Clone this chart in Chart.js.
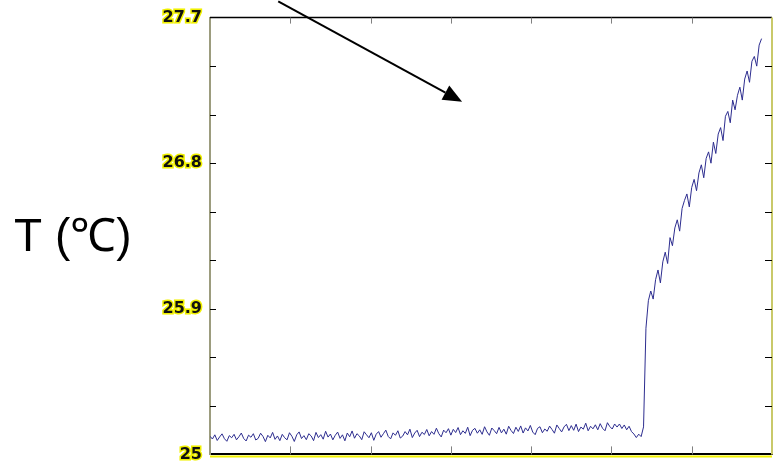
<!DOCTYPE html>
<html>
<head>
<meta charset="utf-8">
<script src="https://cdn.jsdelivr.net/npm/chart.js@4.4.0/dist/chart.umd.min.js"></script>
<style>
  html, body { margin: 0; padding: 0; background: #fff; }
</style>
</head>
<body>
<canvas id="temp-chart" width="775" height="472"></canvas>
<script>
// sample spacing along the (unlabelled) x axis
const sampleStep = 3;

// temperature readings (deg C), one every sampleStep: flat phase, then heating
const tempFlat = [
  25.112, 25.095, 25.121, 25.086, 25.108, 25.127, 25.097, 25.081, 25.116, 25.103,
  25.124, 25.090, 25.109, 25.132, 25.098, 25.083, 25.119, 25.106, 25.128, 25.089,
  25.099, 25.131, 25.111, 25.079, 25.118, 25.102, 25.136, 25.093, 25.114, 25.085,
  25.124, 25.103, 25.090, 25.134, 25.112, 25.080, 25.121, 25.139, 25.098, 25.116,
  25.091, 25.128, 25.114, 25.085, 25.136, 25.104, 25.122, 25.094, 25.143, 25.107,
  25.126, 25.090, 25.118, 25.138, 25.099, 25.121, 25.084, 25.132, 25.109, 25.145,
  25.100, 25.128, 25.114, 25.091, 25.140, 25.121, 25.103, 25.134, 25.087, 25.125,
  25.141, 25.106, 25.128, 25.150, 25.111, 25.096, 25.133, 25.118, 25.146, 25.101,
  25.113, 25.141, 25.121, 25.156, 25.104, 25.132, 25.149, 25.110, 25.137, 25.123,
  25.154, 25.115, 25.141, 25.124, 25.162, 25.128, 25.108, 25.150, 25.134, 25.159,
  25.119, 25.155, 25.135, 25.166, 25.122, 25.146, 25.130, 25.168, 25.116, 25.149,
  25.161, 25.131, 25.152, 25.124, 25.171, 25.139, 25.118, 25.163, 25.147, 25.128,
  25.167, 25.133, 25.156, 25.125, 25.174, 25.148, 25.129, 25.168, 25.142, 25.176,
  25.132, 25.164, 25.145, 25.179, 25.138, 25.122, 25.161, 25.171, 25.134, 25.157,
  25.143, 25.175, 25.154, 25.131, 25.182, 25.160, 25.139, 25.170, 25.186, 25.147,
  25.178, 25.149, 25.187, 25.141, 25.169, 25.156, 25.193, 25.146, 25.174, 25.158,
  25.183, 25.152, 25.190, 25.161, 25.146, 25.196, 25.172, 25.157, 25.188, 25.169,
  25.188, 25.160, 25.182, 25.152, 25.174, 25.141, 25.126, 25.104, 25.125, 25.110,
  25.170
];
const tempRise = [
  25.78, 25.95, 26.01, 25.96, 26.08, 26.14, 26.06, 26.19, 26.25, 26.18,
  26.34, 26.29, 26.40, 26.45, 26.38, 26.52, 26.57, 26.61, 26.53, 26.65,
  26.70, 26.63, 26.74, 26.79, 26.71, 26.83, 26.87, 26.80, 26.93, 26.86,
  26.98, 27.02, 26.94, 27.09, 27.12, 27.05, 27.19, 27.13, 27.22, 27.27,
  27.19, 27.32, 27.37, 27.30, 27.43, 27.46, 27.40, 27.53, 27.57
];

// axis ticks
const xMin = 0, xMax = 700, xStep = 100;
const yTickValues = [25, 25.3, 25.6, 25.9, 26.2, 26.5, 26.8, 27.1, 27.4, 27.7];
const yTickLabels = ['25', '25.9', '26.8', '27.7'];
const yAxisLabel = 'T (\u2103)';

// arrow annotation, in data coordinates
const arrowFrom = { x: 85, y: 27.80 };
const arrowTo = { x: 314, y: 27.18 };

var temps = tempFlat.concat(tempRise);
var points = temps.map((t, i) => ({ x: i * sampleStep, y: t }));

const framePlugin = {
  id: 'framePlugin',
  afterDraw(chart) {
    var ctx = chart.ctx;
    var area = chart.chartArea;
    var xs = chart.scales.x;
    var ys = chart.scales.y;
    ctx.save();

    // yellow glow under bottom axis
    ctx.strokeStyle = '#f2f200';
    ctx.lineWidth = 2;
    ctx.beginPath();
    ctx.moveTo(area.left, area.bottom + 2);
    ctx.lineTo(area.right, area.bottom + 2);
    ctx.stroke();

    // top and right edges
    ctx.strokeStyle = '#000';
    ctx.lineWidth = 1.5;
    ctx.beginPath();
    ctx.moveTo(area.left, area.top);
    ctx.lineTo(area.right, area.top);
    ctx.stroke();
    ctx.strokeStyle = '#c9c96a';
    ctx.lineWidth = 2;
    ctx.beginPath();
    ctx.moveTo(area.right, area.top);
    ctx.lineTo(area.right, area.bottom);
    ctx.stroke();

    // inside ticks
    ctx.lineWidth = 1;
    ctx.strokeStyle = '#808080';
    xs.ticks.forEach(t => {
      if (t.value <= xMin || t.value >= xMax) return;
      var px = Math.round(xs.getPixelForValue(t.value)) + 0.5;
      ctx.beginPath();
      ctx.moveTo(px, area.top);
      ctx.lineTo(px, area.top + 6);
      ctx.moveTo(px, area.bottom - 8);
      ctx.lineTo(px, area.bottom);
      ctx.stroke();
    });
    ctx.strokeStyle = '#000';
    ys.ticks.forEach(t => {
      if (t.value <= yTickValues[0] || t.value >= yTickValues[yTickValues.length - 1]) return;
      var py = Math.round(ys.getPixelForValue(t.value)) + 0.5;
      ctx.beginPath();
      ctx.moveTo(area.left, py);
      ctx.lineTo(area.left + 6, py);
      ctx.moveTo(area.right - 7, py);
      ctx.lineTo(area.right, py);
      ctx.stroke();
    });

    // axis title, kept horizontal
    ctx.fillStyle = '#000';
    ctx.font = '46px "Liberation Sans", Arial, sans-serif';
    ctx.textAlign = 'left';
    ctx.textBaseline = 'alphabetic';
    ctx.fillText(yAxisLabel, 14, 251);

    // arrow
    var x0 = xs.getPixelForValue(arrowFrom.x), y0 = ys.getPixelForValue(arrowFrom.y);
    var x1 = xs.getPixelForValue(arrowTo.x), y1 = ys.getPixelForValue(arrowTo.y);
    var ang = Math.atan2(y1 - y0, x1 - x0);
    var headLen = 19, headW = 8;
    var bx = x1 - headLen * Math.cos(ang), by = y1 - headLen * Math.sin(ang);
    ctx.strokeStyle = '#000';
    ctx.lineWidth = 2;
    ctx.beginPath();
    ctx.moveTo(x0, y0);
    ctx.lineTo(bx, by);
    ctx.stroke();
    ctx.fillStyle = '#000';
    ctx.beginPath();
    ctx.moveTo(x1, y1);
    ctx.lineTo(bx + headW * Math.sin(ang), by - headW * Math.cos(ang));
    ctx.lineTo(bx - headW * Math.sin(ang), by + headW * Math.cos(ang));
    ctx.closePath();
    ctx.fill();
    ctx.restore();
  }
};

var ctx = document.getElementById('temp-chart').getContext('2d');
var tempChart = new Chart(ctx, {
  type: 'line',
  data: {
    datasets: [{
      data: points,
      borderColor: '#2d2d8f',
      borderWidth: 1,
      pointRadius: 0,
      tension: 0,
      fill: false
    }]
  },
  options: {
    responsive: false,
    animation: false,
    layout: { padding: { top: 16, right: 3, bottom: 11, left: 0 } },
    plugins: {
      legend: { display: false },
      tooltip: { enabled: false }
    },
    scales: {
      x: {
        type: 'linear',
        min: xMin,
        max: xMax,
        ticks: { display: false, stepSize: xStep },
        grid: { display: false, drawTicks: false },
        border: { display: true, color: '#000', width: 2 },
        afterFit(scale) { scale.height = 0; }
      },
      y: {
        min: yTickValues[0],
        max: yTickValues[yTickValues.length - 1],
        afterBuildTicks(scale) {
          scale.ticks = yTickValues.map(v => ({ value: v }));
        },
        afterFit(scale) { scale.width = 210; },
        ticks: {
          padding: 8,
          color: '#111',
          font: { family: '"DejaVu Sans", Verdana, sans-serif', size: 16, weight: 'bold' },
          textStrokeColor: '#f0f000',
          textStrokeWidth: 3,
          callback: function (v) {
            var s = String(Math.round(v * 10) / 10);
            return yTickLabels.indexOf(s) >= 0 ? s : '';
          }
        },
        grid: { display: false, drawTicks: false },
        border: { display: true, color: '#9c9c7e', width: 2 }
      }
    }
  },
  plugins: [framePlugin]
});
</script>
</body>
</html>
